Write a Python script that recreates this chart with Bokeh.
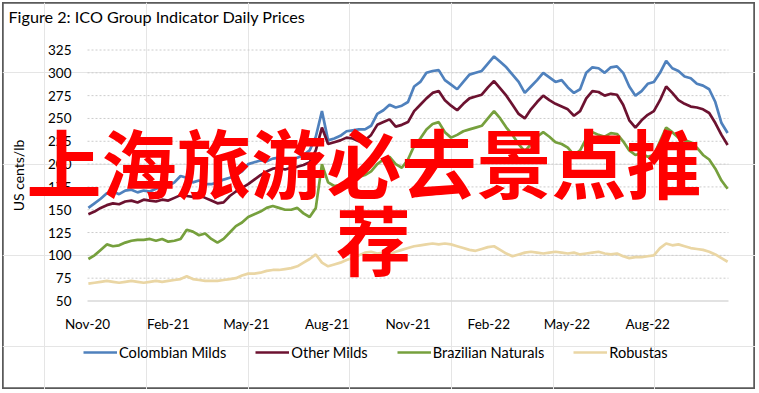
import math
import pandas as pd
from bokeh.plotting import figure
from bokeh.models import Range1d, Label, Legend, LegendItem
from bokeh.embed import file_html
from bokeh.resources import INLINE

# ---------------- data (weekly readings, US cents/lb) ----------------
dates = pd.date_range("2020-11-02", periods=105, freq="7D")

colombian_milds = [
    152, 157, 162, 168, 170, 167, 171, 172, 169, 171, 170, 173, 175, 176, 180,
    187, 185, 180, 182, 178, 178, 180, 183, 185, 188, 192, 200, 202, 204, 203,
    206, 207, 204, 205, 207, 210, 215, 230, 258, 226, 228, 231, 236, 237, 238,
    238, 242, 255, 259, 265, 262, 264, 268, 285, 290, 300, 302, 303, 292, 287,
    282, 290, 298, 300, 302, 310, 318, 312, 306, 298, 290, 278, 285, 292, 300,
    295, 290, 292, 284, 278, 282, 300, 306, 305, 300, 306, 307, 300, 285, 275,
    280, 288, 290, 300, 313, 305, 302, 296, 294, 288, 286, 282, 268, 245, 234]

other_milds = [
    145, 148, 152, 155, 157, 156, 159, 160, 158, 161, 160, 159, 161, 160, 163,
    166, 165, 164, 166, 163, 160, 157, 158, 165, 170, 174, 178, 183, 188, 192,
    195, 196, 194, 196, 197, 199, 202, 215, 240, 222, 224, 226, 229, 228, 225,
    226, 232, 243, 246, 249, 241, 243, 246, 258, 265, 272, 278, 280, 270, 264,
    259, 266, 272, 274, 276, 284, 291, 283, 275, 265, 255, 250, 260, 268, 275,
    270, 266, 263, 260, 253, 258, 272, 280, 279, 275, 277, 276, 265, 248, 240,
    248, 254, 258, 270, 285, 278, 270, 266, 263, 262, 260, 256, 245, 232, 221]

brazilian_naturals = [
    96, 100, 106, 112, 110, 111, 114, 116, 117, 117, 118, 116, 118, 115, 116,
    118, 128, 126, 122, 124, 118, 114, 118, 125, 132, 136, 142, 145, 148, 152,
    154, 152, 150, 150, 152, 146, 142, 152, 200, 180, 176, 177, 174, 182, 186,
    188, 192, 200, 205, 208, 200, 196, 205, 220, 228, 238, 244, 246, 235, 229,
    232, 236, 238, 240, 242, 250, 258, 250, 240, 232, 222, 214, 222, 230, 235,
    230, 224, 222, 218, 210, 215, 228, 235, 232, 230, 234, 233, 225, 215, 210,
    212, 208, 210, 225, 240, 235, 229, 226, 224, 218, 210, 205, 195, 182, 173]

robustas = [
    69, 70, 71, 72, 71, 70, 71, 72, 71, 70, 71, 72, 71, 72, 73,
    74, 77, 74, 73, 72, 72, 72, 73, 74, 75, 78, 80, 80, 81, 83,
    84, 84, 85, 86, 88, 92, 96, 101, 92, 88, 90, 92, 95, 97, 100,
    103, 104, 102, 103, 101, 104, 106, 108, 110, 111, 112, 113, 112, 113, 112,
    110, 108, 106, 105, 107, 109, 110, 106, 102, 99, 101, 103, 104, 103, 102,
    103, 104, 103, 102, 103, 101, 102, 103, 104, 102, 101, 102, 99, 97, 98,
    98, 99, 100, 108, 113, 111, 112, 110, 108, 107, 106, 104, 101, 97, 93]

series_names = ["Colombian Milds", "Other Milds", "Brazilian Naturals", "Robustas"]
series_colors = ["#4F81BD", "#6C1230", "#76A03D", "#EAD6A4"]

y_ticks = [50, 75, 100, 125, 150, 175, 200, 225, 250, 275, 300, 325]
x_tick_dates = ["2020-11-01", "2021-02-01", "2021-05-01", "2021-08-01",
                "2021-11-01", "2022-02-01", "2022-05-01", "2022-08-01"]
x_tick_labels = ["Nov-20", "Feb-21", "May-21", "Aug-21",
                 "Nov-21", "Feb-22", "May-22", "Aug-22"]
axis_start, axis_end = "2020-11-01", "2022-11-01"

title_text = "Figure 2: ICO Group Indicator Daily Prices"
y_axis_title = "US cents/lb"
overlay_line1 = "上海旅游必去景点推"
overlay_line2 = "荐"

# ---------------- layout constants (canvas pixels) ----------------
W, H = 753, 387
PX_START, PX_END = 85, 726      # x of axis start / end date
PY_TOP, PY_BOT = 47.5, 298.5    # y of 325 / 50
FONT = "Lato"
FS = "13.5px"


def ms(d):
    return pd.Timestamp(d).value / 1e6


t0, t1 = ms(axis_start), ms(axis_end)
ms_per_px = (t1 - t0) / (PX_END - PX_START)
y_lo, y_hi = y_ticks[0], y_ticks[-1]
v_per_px = (y_hi - y_lo) / (PY_BOT - PY_TOP)

p = figure(width=W, height=H,
           x_range=Range1d(t0 - PX_START * ms_per_px, t1 + (W - PX_END) * ms_per_px),
           y_range=Range1d(y_lo - (H - PY_BOT) * v_per_px, y_hi + PY_TOP * v_per_px),
           x_axis_location=None, y_axis_location=None, min_border=0,
           output_backend="svg", toolbar_location=None)
p.styles = {"margin-left": "2px", "margin-top": "2px"}
p.outline_line_color = "#5a5a5a"
p.outline_line_width = 2.5
p.background_fill_color = "white"
p.border_fill_color = "white"

# grid lines (dotted) and base line
grid_vals = y_ticks[1:]
p.segment(x0=[t0] * len(grid_vals), x1=[t1] * len(grid_vals),
          y0=grid_vals, y1=grid_vals, line_color="#cccccc",
          line_width=1, line_dash="2 2")
p.segment(x0=[t0], x1=[t1], y0=[y_lo], y1=[y_lo], line_color="#d9d9d9",
          line_width=1.5)

# tick labels
p.text(x=[t0] * len(y_ticks), y=y_ticks, text=[str(v) for v in y_ticks],
       x_offset=-16, text_align="right", text_baseline="middle",
       text_font={"value": FONT}, text_font_size={"value": FS},
       text_color="#000000")
p.text(x=[ms(d) for d in x_tick_dates], y=[y_lo] * len(x_tick_dates),
       text=x_tick_labels, y_offset=23, text_align="center",
       text_baseline="middle", text_font={"value": FONT},
       text_font_size={"value": FS}, text_color="#000000")

# series
renderers = []
for vals, col in zip([colombian_milds, other_milds, brazilian_naturals, robustas],
                     series_colors):
    renderers.append(p.line(dates, vals, line_color=col, line_width=2.7))

# legend under the plot area
legend = Legend(items=[LegendItem(label=n, renderers=[r])
                       for n, r in zip(series_names, renderers)],
                location=(81, 27), orientation="horizontal",
                glyph_width=34, glyph_height=20, label_standoff=2,
                spacing=29, padding=0, margin=0,
                border_line_alpha=0, background_fill_alpha=0,
                label_text_font=FONT, label_text_font_size="14.6px",
                label_text_color="#000000")
p.add_layout(legend)

# texts placed in screen units (x from left, y up from bottom)
p.add_layout(Label(x=6, y=H - 14, x_units="screen", y_units="screen",
                   text=title_text, text_font=FONT, text_font_size="16.2px",
                   text_align="left", text_baseline="middle",
                   text_color="#000000"))
p.add_layout(Label(x=15.5, y=H - (PY_TOP + PY_BOT) / 2, x_units="screen",
                   y_units="screen", text=y_axis_title, angle=math.pi / 2,
                   text_font=FONT, text_font_size="14px", text_align="center",
                   text_baseline="middle", text_color="#000000"))
p.add_layout(Label(x=361.5, y=H - 158, x_units="screen", y_units="screen",
                   text=overlay_line1, text_font="Noto Sans CJK SC",
                   text_font_size="75px", text_font_style="bold",
                   text_align="center", text_baseline="middle",
                   text_color="#FF0000"))
p.add_layout(Label(x=371, y=H - 235, x_units="screen", y_units="screen",
                   text=overlay_line2, text_font="Noto Sans CJK SC",
                   text_font_size="75px", text_font_style="bold",
                   text_align="center", text_baseline="middle",
                   text_color="#FF0000"))

open("out.html", "w").write(file_html(p, INLINE))
